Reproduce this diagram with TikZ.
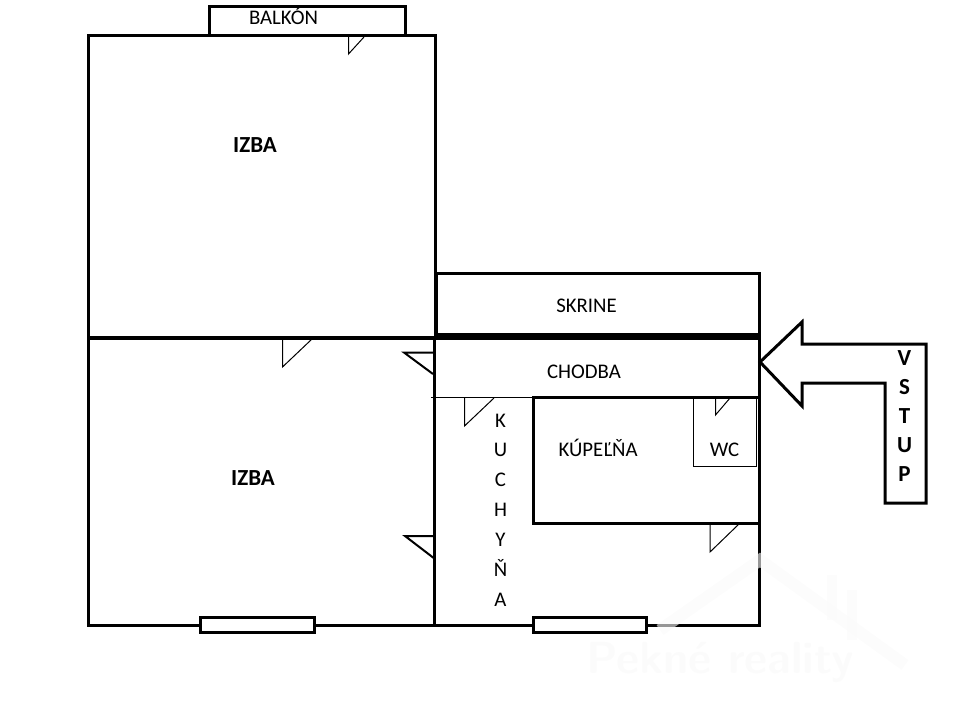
\documentclass[tikz,border=0pt]{standalone}
\usepackage{fontspec}
\setmainfont{Carlito}
\usetikzlibrary{calc,positioning}

\begin{document}
\begin{tikzpicture}[x=1pt,y=-1pt]
        \tikzstyle{wall} = [line width=3pt, draw=black, miter limit=4]
        \tikzstyle{door} = [line width=1pt, draw=black]
        \tikzstyle{room} = [inner sep=0pt, anchor=base, font=\fontsize{20.8}{24}\selectfont, align=center]
        \tikzstyle{broom} = [inner sep=0pt, anchor=base, font=\fontsize{23}{26}\selectfont\bfseries, align=center]

        \useasboundingbox (0,0) rectangle (960,720);

        % rooms
        \draw[wall] (88,35) rectangle (435,337);
        \draw[wall] (209,6) rectangle (405,35);
        \draw[wall] (436,273) -- (759,273) -- (759,625) -- (88,625) -- (88,337);
        \draw[wall] (436,273) -- (436,335);
        \draw[line width=5pt] (436,335) -- (759,335);
        \draw[wall] (88,338) -- (759,338);
        \draw[wall] (434,338) -- (434,625);
        \draw[line width=1pt] (431,397.5) -- (533,397.5);
        \draw[wall] (759,397.5) -- (533.5,397.5) -- (533.5,523) -- (759,523);
        \draw[line width=1pt] (693,397) -- (693,466.5) -- (756.5,466.5) -- (756.5,397);

        % windows
        \draw[wall, fill=white] (200.5,617.5) rectangle (314.5,632.5);
        \draw[wall, fill=white] (533.5,617.5) rectangle (646.5,632.5);

        % doors
        \draw[door] (348.5,37) -- (348.5,54) -- (364,37);
        \draw[door] (282.5,339) -- (282.5,367) -- (312,339);
        \draw[door, line width=2pt] (433,352.5) -- (404,352.5) -- (433,374);
        \draw[door, line width=2pt] (435,536) -- (405,536) -- (435,559);
        \draw[door] (464.5,398) -- (464.5,426) -- (494,398);
        \draw[door] (710,524) -- (710,552) -- (739,524);
        \draw[door] (715.5,398) -- (715.5,415) -- (730,398);

        % entrance arrow
        \draw[wall, fill=white] (760,362) -- (802,322) -- (802,344) -- (926,344) -- (926,503)
          -- (885,503) -- (885,383) -- (802,383) -- (802,406) -- cycle;

        % labels
        \node[room] (balkon) at (283.5,24.5) {BALKÓN};
        \node[broom] (izbaa) at (255,152) {IZBA};
        \node[broom] (izbab) at (253,485) {IZBA};
        \node[room] (skrine) at (586.5,312) {SKRINE};
        \node[room] (chodba) at (584,378) {CHODBA};
        \node[room] (kupelna) at (598,456.5) {KÚPEĽŇA};
        \node[room] (wc) at (724.5,456.5) {WC};
        \node[room, anchor=north, font=\fontsize{20.8}{29.9}\selectfont] (kuchyna) at (500.5,413.5) {K\\U\\C\\H\\Y\\Ň\\A};
        \node[broom, anchor=north, font=\fontsize{23}{29.2}\selectfont\bfseries] (vstup) at (904.5,350) {V\\S\\T\\U\\P};

        % watermark
        \begin{scope}[opacity=0.6]
          \draw[line width=12pt, draw=gray!4, line join=miter]
            (660,630) -- (760,560) -- (905,665);
          \draw[line width=10pt, draw=gray!4] (852,590) -- (852,640);
          \draw[line width=10pt, draw=gray!4] (832,575) -- (832,620);
          \node[inner sep=0pt, text=gray!5, font=\fontsize{45}{50}\selectfont\sffamily\bfseries] (logo) at (720,662) {Pekné reality};
        \end{scope}
      \end{tikzpicture}
\end{document}
